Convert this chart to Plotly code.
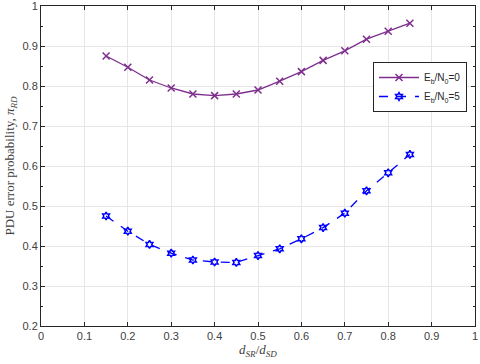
import plotly.graph_objects as go

# rapport de distances d_SR/d_SD
ratio = [0.15, 0.20, 0.25, 0.30, 0.35, 0.40, 0.45, 0.50, 0.55, 0.60, 0.65, 0.70, 0.75, 0.80, 0.85]

# probabilite d'erreur PDU pour Eb/N0 = 0 et Eb/N0 = 5
err_eb0 = [0.875, 0.847, 0.815, 0.795, 0.780, 0.776, 0.780, 0.790, 0.812, 0.836, 0.864, 0.888, 0.917, 0.937, 0.957]
err_eb5 = [0.475, 0.437, 0.404, 0.382, 0.365, 0.360, 0.359, 0.376, 0.393, 0.418, 0.446, 0.482, 0.538, 0.583, 0.629]

x_ticks = [0, 0.1, 0.2, 0.3, 0.4, 0.5, 0.6, 0.7, 0.8, 0.9, 1]
y_ticks = [0.2, 0.3, 0.4, 0.5, 0.6, 0.7, 0.8, 0.9, 1]

fig = go.Figure()

fig.add_trace(go.Scatter(
    x=ratio, y=err_eb0, mode="lines+markers",
    name="E<sub>b</sub>/N<sub>0</sub>=0",
    line=dict(color="#7E2F8E", width=1.3),
    marker=dict(symbol="x-thin-open", size=7, line=dict(color="#7E2F8E", width=1.5)),
))
fig.add_trace(go.Scatter(
    x=ratio, y=err_eb5, mode="lines+markers",
    name="E<sub>b</sub>/N<sub>0</sub>=5",
    line=dict(color="#0000FF", width=1.3, dash="dash"),
    marker=dict(symbol="hexagram-open", size=6, line=dict(color="#0000FF", width=1.5)),
))

axis_common = dict(
    showline=True, linecolor="#262626", linewidth=1, mirror="allticks",
    ticks="inside", ticklen=4, tickcolor="#262626",
    showgrid=True, gridcolor="#E6E6E6", gridwidth=1,
    zeroline=False, automargin=False,
    tickfont=dict(family="Liberation Sans, Arial", size=11, color="#404040"),
)

fig.update_layout(
    width=480, height=364,
    margin=dict(l=41, r=5, t=6, b=38),
    paper_bgcolor="white", plot_bgcolor="white",
    xaxis=dict(
        range=[0, 1], tickvals=x_ticks, ticktext=[str(v) for v in x_ticks],
        title=dict(text="<i>d</i><sub><i>SR</i></sub>/<i>d</i><sub><i>SD</i></sub>",
                   font=dict(family="Liberation Serif", size=13, color="#404040"), standoff=0),
        **axis_common,
    ),
    yaxis=dict(
        range=[0.2, 1], tickvals=y_ticks, ticktext=[str(v) for v in y_ticks],
        minor=dict(ticks="inside", dtick=0.05, ticklen=2, tickcolor="#262626", showgrid=False),
        title=dict(text="PDU error probability, <i>π</i><sub><i>RD</i></sub>",
                   font=dict(family="Liberation Serif", size=13, color="#404040"), standoff=4),
        ticklabeloverflow="allow",
        **axis_common,
    ),
    legend=dict(
        x=0.765, y=0.825, xanchor="left", yanchor="top",
        bgcolor="white", bordercolor="#262626", borderwidth=1,
        font=dict(family="Liberation Sans, Arial", size=10, color="#262626"),
        tracegroupgap=0, itemwidth=40,
    ),
)

# marge du body a zero pour que la figure remplisse la fenetre
fig.write_html("out.html", config={"displayModeBar": False},
               post_script="document.body.style.margin='0';")
